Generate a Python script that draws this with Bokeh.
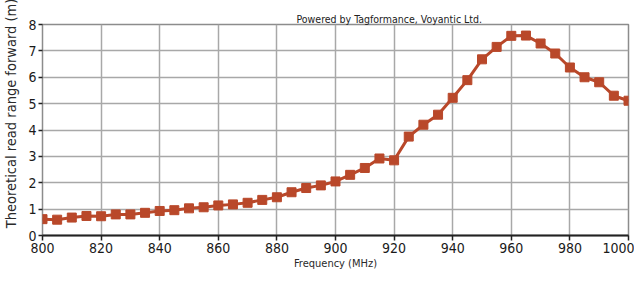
from bokeh.plotting import figure
from bokeh.models import Range1d, FixedTicker
from bokeh.embed import file_html
from bokeh.resources import INLINE

freq_mhz = [800, 805, 810, 815, 820, 825, 830, 835, 840, 845, 850, 855, 860, 865,
            870, 875, 880, 885, 890, 895, 900, 905, 910, 915, 920, 925, 930, 935,
            940, 945, 950, 955, 960, 965, 970, 975, 980, 985, 990, 995, 1000]
read_range_m = [0.62, 0.60, 0.68, 0.74, 0.73, 0.80, 0.80, 0.86, 0.93, 0.96, 1.03, 1.07,
                1.14, 1.18, 1.24, 1.35, 1.45, 1.64, 1.80, 1.90, 2.05, 2.30, 2.56, 2.92,
                2.85, 3.75, 4.20, 4.58, 5.22, 5.89, 6.68, 7.15, 7.57, 7.58, 7.28, 6.90,
                6.37, 6.00, 5.81, 5.30, 5.11]
x_ticks = [800, 820, 840, 860, 880, 900, 920, 940, 960, 980, 1000]
y_ticks = [0, 1, 2, 3, 4, 5, 6, 7, 8]

FONT = "DejaVu Sans Condensed"
LINE = "#b9482a"

p = figure(width=634, height=272, output_backend="svg", toolbar_location=None,
           x_range=Range1d(800, 1000), y_range=Range1d(0, 8),
           title="Powered by Tagformance, Voyantic Ltd.")
p.min_border_left = 41
p.min_border_right = 6
p.min_border_top = 24
p.min_border_bottom = 37
p.outline_line_color = "#8c8c8c"
p.outline_line_width = 1.5

p.title.text_font = FONT
p.title.text_font_size = "10.5px"
p.title.text_font_style = "normal"
p.title.text_color = "#222222"
p.title.align = "left"
p.title.offset = 254
p.title.standoff = 0

p.xaxis.ticker = FixedTicker(ticks=x_ticks)
p.yaxis.ticker = FixedTicker(ticks=y_ticks)
p.xaxis.axis_label = "Frequency (MHz)"
# leading no-break spaces shift the centred label upward, as in the reference
p.yaxis.axis_label = "\u00a0" * 8 + "Theoretical read range forward (m)"
for ax in (p.xaxis, p.yaxis):
    ax.major_label_text_font = FONT
    ax.major_label_text_font_size = "14px"
    ax.major_label_text_color = "#1a1a1a"
    ax.axis_label_text_font = FONT
    ax.axis_label_text_font_style = "normal"
    ax.axis_label_text_color = "#2a2a2a"
    ax.minor_tick_line_color = None
    ax.major_tick_line_color = "#222222"
    ax.major_tick_line_width = 1.5
    ax.major_tick_in = 0
ax = p.xaxis[0]
ax.axis_label_text_font_size = "11px"
ax.axis_line_color = "#222222"
ax.axis_line_width = 2
ax.major_tick_out = 5
ax.major_label_standoff = 2
ax.axis_label_standoff = 1
ay = p.yaxis[0]
ay.axis_label_text_font_size = "14.5px"
ay.axis_line_color = None
ay.major_tick_out = 4
ay.major_label_standoff = 2
ay.axis_label_standoff = 6

p.grid.grid_line_color = "#a8a8a8"
p.grid.grid_line_width = 1.5

p.line(freq_mhz, read_range_m, line_color=LINE, line_width=3)
p.scatter(freq_mhz, read_range_m, marker="square", size=9,
          fill_color=LINE, line_color=LINE)

open("out.html", "w").write(file_html(p, INLINE))
